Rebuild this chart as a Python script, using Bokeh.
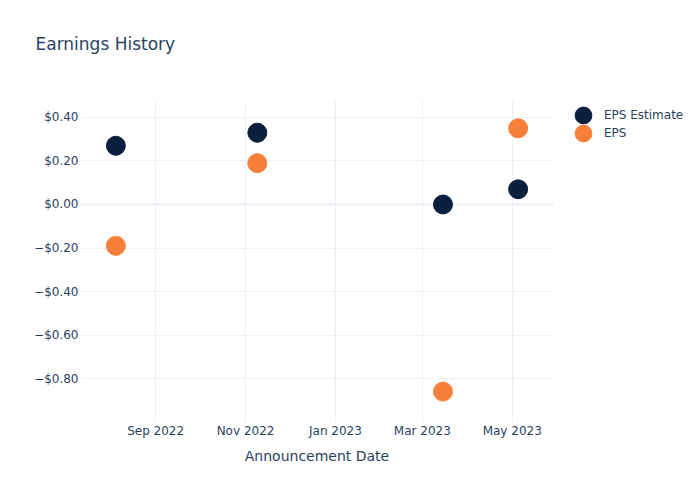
from datetime import datetime
from bokeh.plotting import figure
from bokeh.layouts import row
from bokeh.models import (ColumnDataSource, FixedTicker, DatetimeTickFormatter,
                          CustomJSTickFormatter, Legend, LegendItem, Span, Range1d, Title)
from bokeh.embed import file_html
from bokeh.resources import INLINE

# data
dates = ["2022-08-05", "2022-11-09", "2023-03-15", "2023-05-05"]
eps_estimate = [0.27, 0.33, 0.00, 0.07]
eps_actual = [-0.19, 0.19, -0.86, 0.35]
series_names = ["EPS Estimate", "EPS"]
chart_title = "Earnings History"
x_tick_dates = ["2022-09-01", "2022-11-01", "2023-01-01", "2023-03-01", "2023-05-01"]
y_ticks = [-0.8, -0.6, -0.4, -0.2, 0.0, 0.2, 0.4]
x_range_dates = ["2022-07-12", "2023-05-29"]
y_range_vals = [-1.002, 0.478]

TXT = "#2a3f5f"
GRID = "#ebf0f8"
NAVY = "#0b1f3f"
ORANGE = "#f6803a"
FONT = "DejaVu Sans"

def ms(s):
    return datetime.strptime(s, "%Y-%m-%d").timestamp() * 1000.0

xs = [datetime.strptime(d, "%Y-%m-%d") for d in dates]
src = ColumnDataSource(dict(x=xs, est=eps_estimate, eps=eps_actual))

p = figure(width=560, height=500, output_backend="svg", toolbar_location=None,
           x_axis_type="datetime", title=None,
           x_range=Range1d(ms(x_range_dates[0]), ms(x_range_dates[1])),
           y_range=Range1d(y_range_vals[0], y_range_vals[1]),
           min_border_left=80, min_border_right=7, min_border_top=100, min_border_bottom=78)
p.outline_line_color = None
p.background_fill_color = "white"
p.border_fill_color = "white"

# grids
p.xgrid.ticker = FixedTicker(ticks=[ms(d) for d in x_tick_dates])
p.ygrid.ticker = FixedTicker(ticks=y_ticks)
for g in (p.xgrid, p.ygrid):
    g.grid_line_color = GRID
    g.grid_line_width = 1

p.add_layout(Span(location=0, dimension="width", line_color=GRID, line_width=2, level="underlay"))

# axes
xa = p.xaxis[0]
xa.ticker = FixedTicker(ticks=[ms(d) for d in x_tick_dates])
xa.formatter = DatetimeTickFormatter(months="%b %Y", days="%b %Y", years="%b %Y")
xa.axis_label = "Announcement Date"
ya = p.yaxis[0]
ya.ticker = FixedTicker(ticks=y_ticks)
ya.formatter = CustomJSTickFormatter(code="""
  const s = (tick < -1e-9) ? '\u2212' : '';
  return s + '$' + Math.abs(tick).toFixed(2);
""")
for ax in (xa, ya):
    ax.axis_line_color = None
    ax.major_tick_line_color = None
    ax.minor_tick_line_color = None
    ax.major_tick_out = 0
    ax.major_tick_in = 0
    ax.minor_tick_out = 0
    ax.minor_tick_in = 0
    ax.major_label_text_color = TXT
    ax.major_label_text_font = FONT
    ax.major_label_text_font_size = "12px"
    ax.axis_label_text_color = TXT
    ax.axis_label_text_font = FONT
    ax.axis_label_text_font_size = "14px"
    ax.axis_label_text_font_style = "normal"
xa.major_label_standoff = 1
ya.major_label_standoff = 2
xa.axis_label_standoff = 7

p.scatter("x", "est", source=src, size=19, color=NAVY, line_color=NAVY)
p.scatter("x", "eps", source=src, size=19, color=ORANGE, line_color=ORANGE)

# spacer (nearest the frame) then the real title above it
p.add_layout(Title(text=" ", text_font=FONT, text_font_size="17px", standoff=20), "above")
p.add_layout(Title(text=chart_title, text_font=FONT, text_font_size="17px",
                   text_font_style="normal", text_color=TXT, align="left",
                   offset=-45, standoff=10), "above")

# legend panel (its frame is aligned with the main plot's frame in the row)
lf = figure(width=140, height=500, output_backend="svg", toolbar_location=None,
            x_range=Range1d(0, 1), y_range=Range1d(0, 1),
            min_border_left=0, min_border_right=0, min_border_top=100, min_border_bottom=78)
lf.axis.visible = False
lf.grid.visible = False
lf.outline_line_color = None
lf.border_fill_color = "white"
lf.background_fill_color = "white"
# same data; falls outside this panel's ranges, only used for legend swatches
l1 = lf.scatter("x", "est", source=src, size=19, color=NAVY, line_color=NAVY)
l2 = lf.scatter("x", "eps", source=src, size=19, color=ORANGE, line_color=ORANGE)

def make_legend(label, rend, loc):
    return Legend(items=[LegendItem(label=label, renderers=[rend])],
                  location=loc, border_line_color=None, background_fill_alpha=0,
                  label_text_color=TXT, label_text_font=FONT, label_text_font_size="12px",
                  glyph_width=42, glyph_height=42, spacing=0, padding=0, margin=0,
                  label_standoff=0, label_height=16)

lf.add_layout(make_legend(series_names[0], l1, (2, 286)), "center")
lf.add_layout(make_legend(series_names[1], l2, (2, 268)), "center")

layout = row(p, lf, spacing=0)
open("out.html", "w").write(file_html(layout, INLINE))
